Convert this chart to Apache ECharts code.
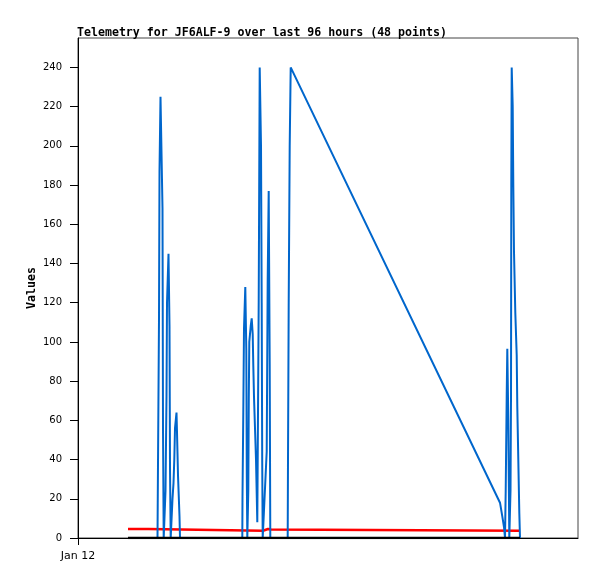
<!DOCTYPE html>
<html>
<head>
<meta charset="utf-8">
<script src="https://cdn.jsdelivr.net/npm/echarts@6/dist/echarts.min.js"></script>
<style>html,body{margin:0;padding:0;background:#fff}#c{width:597px;height:579px}</style>
</head>
<body>
<div id="c"></div>
<script>
// x in hours since Jan 12 00:00
var titleText = 'Telemetry for JF6ALF-9 over last 96 hours (48 points)';
var xTickValues = [0];
var xTickLabels = ['Jan 12'];
var yTickValues = [0, 20, 40, 60, 80, 100, 120, 140, 160, 180, 200, 220, 240];

var blueX = [12.5, 19.875, 20.0, 20.25, 20.375, 20.625, 21.0, 21.125, 21.25, 21.425, 21.75, 21.875, 22.125, 22.25, 22.625, 22.875, 23.0, 23.175, 23.5, 23.625, 23.875, 24.075, 24.25, 24.625, 24.75, 25.0, 25.375, 25.5,
  41.075, 41.125, 41.325, 41.5, 41.825, 42.075, 42.2, 42.325, 42.575, 42.7, 42.825, 43.175, 43.425, 43.675, 43.825, 44.0, 44.25, 44.5, 44.825, 45.175, 45.425, 45.75, 45.925, 46.05, 46.175, 46.675, 47.175, 47.425, 47.675, 47.925, 48.075,
  52.425, 52.5, 52.675, 52.925, 53.175, 105.5, 106.075, 106.5, 106.75, 106.925, 107.175, 107.325, 107.575, 107.825, 108.125, 108.25, 108.325, 108.425, 108.675, 108.825, 109.0, 109.325, 109.675, 109.825, 110.075, 110.325, 110.5];
var blueY = [0, 0, 38, 112, 187, 225, 225, 168, 56, 0, 0, 24, 72, 120, 145, 108, 36, 0, 0, 20, 28, 40, 56, 64, 54, 32, 11, 0,
  0, 21, 64, 107, 128, 96, 32, 0, 24, 72, 100, 108, 112, 104, 88, 72, 56, 40, 8, 120, 240, 200, 120, 40, 0, 0, 44, 132, 177, 88, 0,
  0, 40, 120, 200, 240, 18, 11, 5.6, 0, 24, 72, 96.5, 60, 0, 24, 72, 180, 240, 220, 180, 146, 115, 93.5, 67, 40, 13, 0];

var redX = [12.5, 17.6, 18.0, 46.25, 46.75, 47.5, 48.25, 48.75, 110.5];
var redY = [4.6, 4.6, 3.7, 3.7, 4.3, 4.6, 4.3, 3.7, 3.7];

var blackX = [12.5, 110.5];
var blackY = [0, 0];

function pairs(xs, ys) { return xs.map(function (x, i) { return [x, ys[i]]; }); }

var font = 'DejaVu Sans';
var chart = echarts.init(document.getElementById('c'), null, { renderer: 'canvas' });
chart.setOption({
  backgroundColor: '#ffffff',
  animation: false,
  title: {
    text: titleText, left: 72, top: 22,
    textStyle: { fontFamily: 'DejaVu Sans Mono', fontWeight: 'bold', fontSize: 11.6, color: '#000' }
  },
  grid: { left: 78, right: 19, top: 38, bottom: 41, show: true, borderColor: '#444', borderWidth: 1, backgroundColor: 'transparent' },
  xAxis: {
    type: 'value', min: 0, max: 125,
    axisLine: { show: true, lineStyle: { color: '#000', width: 1 } },
    axisTick: { show: true, length: 7, customValues: xTickValues, lineStyle: { color: '#000' } },
    axisLabel: {
      customValues: xTickValues, margin: 13, color: '#000', fontFamily: font, fontSize: 11,
      formatter: function (v) { var i = xTickValues.indexOf(v); return i >= 0 ? xTickLabels[i] : ''; }
    },
    splitLine: { show: false }
  },
  yAxis: {
    type: 'value', min: 0, max: 255,
    name: 'Values', nameLocation: 'middle', nameGap: 40, nameMoveOverlap: false,
    nameTextStyle: { fontFamily: 'DejaVu Sans Mono', fontWeight: 'bold', fontSize: 11.6, color: '#000' },
    axisLine: { show: true, lineStyle: { color: '#000', width: 1 } },
    axisTick: { show: true, length: 8, customValues: yTickValues, lineStyle: { color: '#000' } },
    axisLabel: { customValues: yTickValues, margin: 16, color: '#000', fontFamily: font, fontSize: 10 },
    splitLine: { show: false }
  },
  series: [
    { type: 'line', data: pairs(redX, redY), showSymbol: false, lineStyle: { color: '#ff0000', width: 2.5 }, z: 2 },
    { type: 'line', data: pairs(blueX, blueY), showSymbol: false, lineStyle: { color: '#0066cc', width: 2 }, z: 3 },
    { type: 'line', data: pairs(blackX, blackY), showSymbol: false, lineStyle: { color: '#000000', width: 2.5 }, z: 4 }
  ]
});
</script>
</body>
</html>
